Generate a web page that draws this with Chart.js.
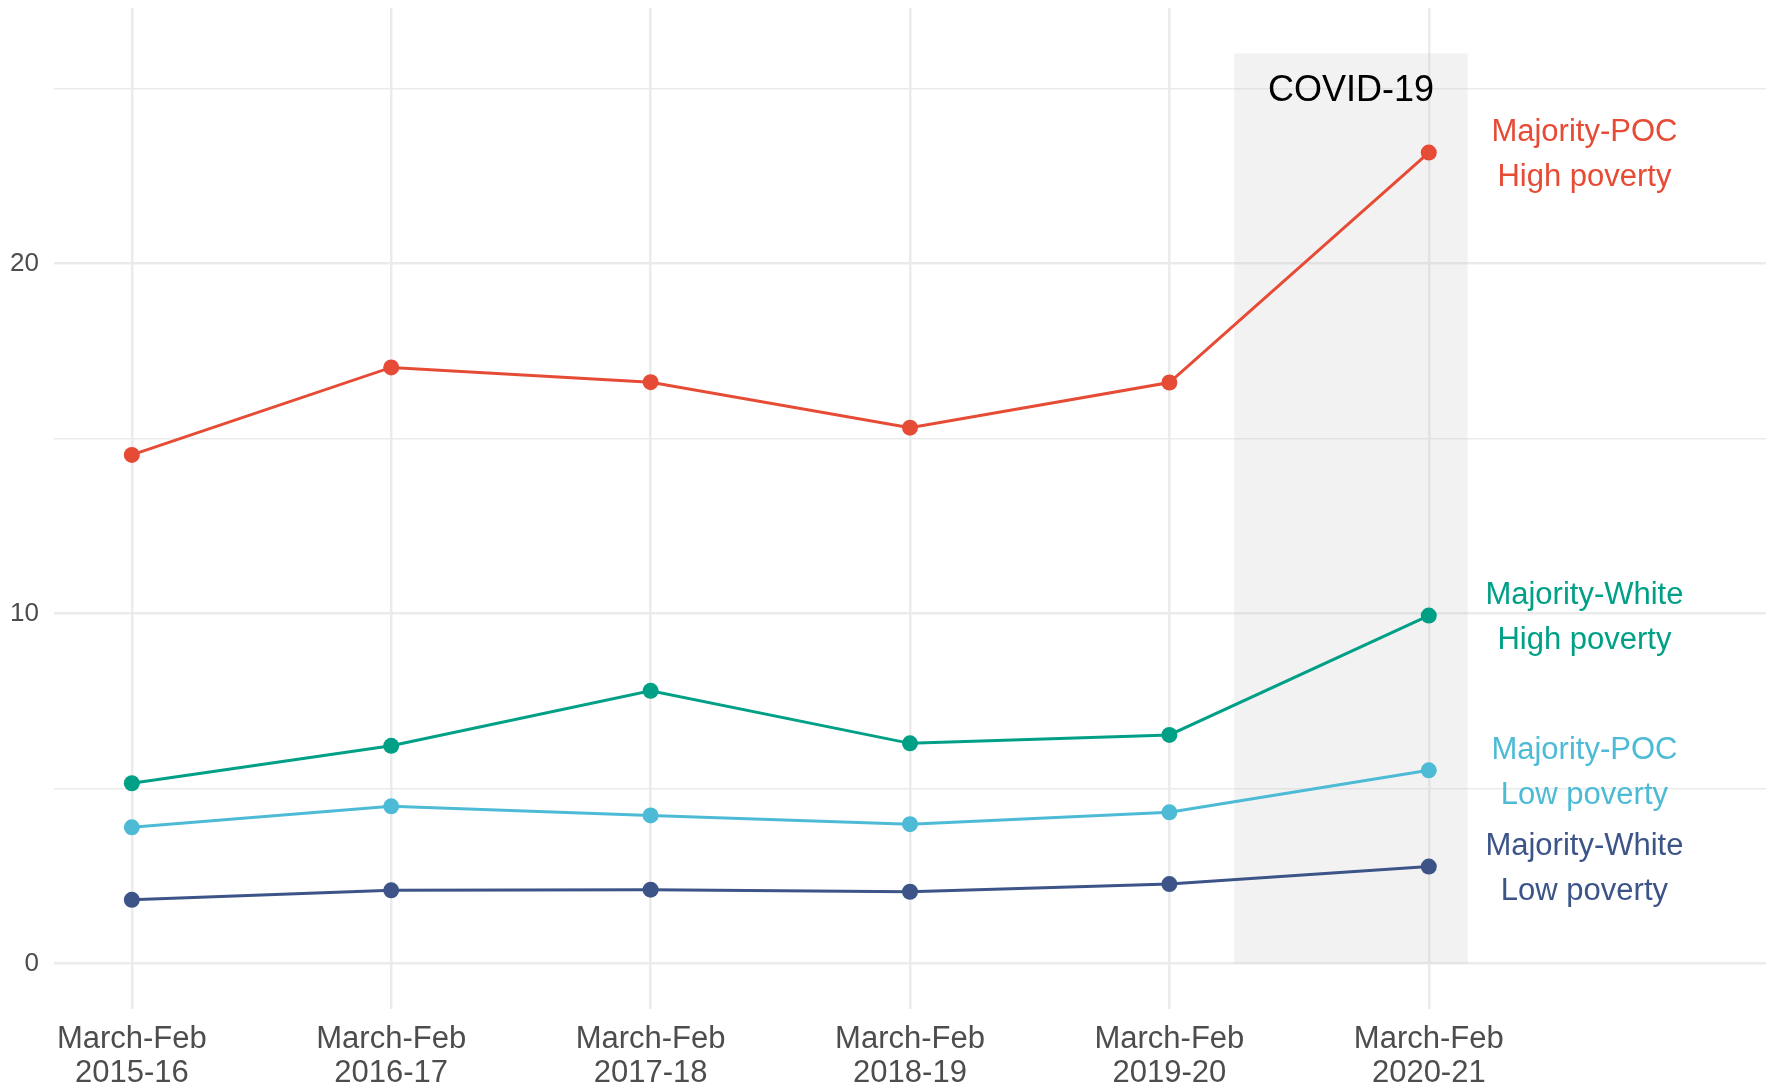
<!DOCTYPE html>
<html>
<head>
<meta charset="utf-8">
<script src="https://cdn.jsdelivr.net/npm/chart.js@4.4.1/dist/chart.umd.min.js"></script>
<style>
  html, body { margin: 0; padding: 0; background: #fff; }
  #wrap { width: 1774px; height: 1087px; }
</style>
</head>
<body>
<div id="wrap"><canvas id="myChart"></canvas></div>
<script>
var periods = [
  ["March-Feb", "2015-16"],
  ["March-Feb", "2016-17"],
  ["March-Feb", "2017-18"],
  ["March-Feb", "2018-19"],
  ["March-Feb", "2019-20"],
  ["March-Feb", "2020-21"]
];
var pocHigh   = [14.53, 17.03, 16.61, 15.31, 16.60, 23.17];
var whiteHigh = [5.15, 6.22, 7.79, 6.29, 6.53, 9.94];
var pocLow    = [3.89, 4.49, 4.23, 3.98, 4.32, 5.52];
var whiteLow  = [1.82, 2.09, 2.11, 2.05, 2.27, 2.77];
var seriesNames = [
  ["Majority-POC", "High poverty"],
  ["Majority-White", "High poverty"],
  ["Majority-POC", "Low poverty"],
  ["Majority-White", "Low poverty"]
];
var seriesColors = ["#E64B35", "#00A087", "#4DBBD5", "#3C5488"];
var yTicks = [0, 5, 10, 15, 20, 25];
var covidText = "COVID-19";
var covidStart = 4.25, covidEnd = 5.15, covidTop = 26;

var FONT = "'Liberation Sans', Arial, Helvetica, sans-serif";

function points(arr) {
  return arr.map(function (v, i) { return { x: i, y: v }; });
}

var allSeries = [pocHigh, whiteHigh, pocLow, whiteLow];
var datasets = allSeries.map(function (s, i) {
  return {
    label: seriesNames[i].join(" "),
    data: points(s),
    borderColor: seriesColors[i],
    backgroundColor: seriesColors[i],
    pointBackgroundColor: seriesColors[i],
    pointBorderWidth: 0,
    pointRadius: 8,
    borderWidth: 3,
    tension: 0,
    clip: false
  };
});

// grey COVID band behind the lines
var covidBand = {
  id: 'covidBand',
  beforeDatasetsDraw: function (chart) {
    var x = chart.scales.x, y = chart.scales.y, c = chart.ctx;
    var x0 = x.getPixelForValue(covidStart), x1 = x.getPixelForValue(covidEnd);
    var y0 = y.getPixelForValue(0), y1 = y.getPixelForValue(covidTop);
    c.save();
    c.fillStyle = "rgba(190,190,190,0.2)";
    c.fillRect(x0, y1, x1 - x0, y0 - y1);
    c.restore();
  }
};

// COVID caption and the series labels on the right
var textLabels = {
  id: 'textLabels',
  afterDatasetsDraw: function (chart) {
    var x = chart.scales.x, y = chart.scales.y, c = chart.ctx;
    c.save();
    c.textAlign = "center";
    c.textBaseline = "middle";
    c.fillStyle = "#000";
    c.font = "36px " + FONT;
    c.fillText(covidText, x.getPixelForValue((covidStart + covidEnd) / 2), y.getPixelForValue(25) + 3);

    c.font = "31px " + FONT;
    var lx = x.getPixelForValue(5.6);
    datasets.forEach(function (ds, i) {
      var meta = chart.getDatasetMeta(i);
      var last = meta.data[meta.data.length - 1];
      c.fillStyle = seriesColors[i];
      c.fillText(seriesNames[i][0], lx, last.y - 20);
      c.fillText(seriesNames[i][1], lx, last.y + 25);
    });
    c.restore();
  }
};

new Chart(document.getElementById("myChart"), {
  type: 'line',
  data: { datasets: datasets },
  options: {
    responsive: true,
    maintainAspectRatio: false,
    animation: false,
    layout: { padding: { top: 7, right: 7, left: 0, bottom: 0 } },
    plugins: {
      legend: { display: false },
      tooltip: { enabled: false }
    },
    scales: {
      x: {
        type: 'linear',
        min: -0.3,
        max: 6.3,
        afterBuildTicks: function (s) {
          s.ticks = periods.map(function (p, i) { return { value: i }; });
        },
        afterFit: function (s) {
          s.height = 78;
          s.paddingLeft = 0;
          s.paddingRight = 0;
        },
        ticks: {
          callback: function (v) { return periods[v]; },
          color: "#4d4d4d",
          font: { family: FONT, size: 31, lineHeight: 1.1 },
          padding: 13,
          maxRotation: 0,
          autoSkip: false
        },
        grid: { color: "#ebebeb", lineWidth: 2.5, drawTicks: false },
        border: { display: false }
      },
      y: {
        min: -1.3,
        max: 27.3,
        afterBuildTicks: function (s) {
          s.ticks = yTicks.map(function (v) { return { value: v }; });
        },
        afterFit: function (s) {
          s.width = 54;
          s.paddingTop = 0;
          s.paddingBottom = 0;
        },
        ticks: {
          callback: function (v) { return v % 10 === 0 ? String(v) : ""; },
          color: "#4d4d4d",
          font: { family: FONT, size: 26 },
          padding: 15
        },
        grid: {
          color: "#ebebeb",
          lineWidth: function (ctx) { return ctx.tick && ctx.tick.value % 10 === 0 ? 2.5 : 1.5; },
          drawTicks: false
        },
        border: { display: false }
      }
    }
  },
  plugins: [covidBand, textLabels]
});
</script>
</body>
</html>
